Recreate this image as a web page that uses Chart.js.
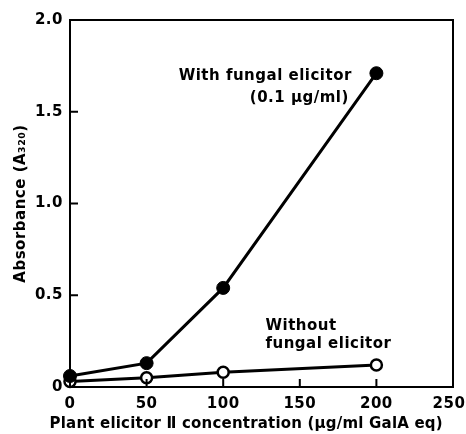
<!DOCTYPE html>
<html><head><meta charset="utf-8">
<script src="https://cdn.jsdelivr.net/npm/chart.js@4/dist/chart.umd.min.js"></script>
<style>html,body{margin:0;padding:0;background:#fff}#wrap{width:466px;height:434px}</style>
</head><body><div id="wrap"><canvas id="c" width="466" height="434"></canvas></div>
<script>
const concentrations = [0, 50, 100, 200];
const withFungal = [0.06, 0.13, 0.54, 1.71];
const withoutFungal = [0.03, 0.05, 0.08, 0.12];
const xTicks = [0, 50, 100, 150, 200, 250];
const yTicks = [0, 0.5, 1.0, 1.5, 2.0];
const xTitle = 'Plant elicitor Ⅱ concentration (μg/ml GalA eq)';
const yTitle = 'Absorbance (A₃₂₀)';
const labelWith = ["With fungal elicitor", "(0.1 μg/ml)"];
const labelWithout = ["Without", "fungal elicitor"];

const FONT = "'DejaVu Sans', sans-serif";

const framePlugin = {
  id: 'frame',
  beforeDraw(chart) { chart.ctx.letterSpacing = '0.5px'; },
  afterDatasetsDraw(chart) {
    const ctx = chart.ctx, a = chart.chartArea;
    const xs = chart.scales.x, ys = chart.scales.y;
    ctx.save();
    ctx.strokeStyle = '#000';
    ctx.lineWidth = 2;
    ctx.strokeRect(a.left, a.top, a.right - a.left, a.bottom - a.top);
    ctx.beginPath();
    xTicks.forEach(v => { if (v > 0 && v < 250) { const px = xs.getPixelForValue(v); ctx.moveTo(px, a.bottom); ctx.lineTo(px, a.bottom - 8); } });
    yTicks.forEach(v => { if (v > 0 && v < 2) { const py = ys.getPixelForValue(v); ctx.moveTo(a.left, py); ctx.lineTo(a.left + 8, py); } });
    ctx.stroke();
    ctx.fillStyle = '#000';
    ctx.font = "bold 15px " + FONT;
    ctx.letterSpacing = '0.5px';
    ctx.textBaseline = 'alphabetic';
    ctx.textAlign = 'right';
    ctx.fillText(labelWith[0], xs.getPixelForValue(184), ys.getPixelForValue(1.673));
    ctx.fillText(labelWith[1], xs.getPixelForValue(182), ys.getPixelForValue(1.553));
    ctx.textAlign = 'left';
    ctx.fillText(labelWithout[0], xs.getPixelForValue(127.6), ys.getPixelForValue(0.311));
    ctx.fillText(labelWithout[1], xs.getPixelForValue(127.6), ys.getPixelForValue(0.2125));
    // x-axis title
    ctx.font = "bold 15px " + FONT;
    ctx.letterSpacing = '0.2px';
    ctx.textAlign = 'center';
    ctx.fillText(xTitle, xs.getPixelForValue(115), a.bottom + 41);
    ctx.restore();
  }
};

new Chart(document.getElementById('c'), {
  type: 'line',
  data: {
    datasets: [
      { label: 'With fungal elicitor', data: concentrations.map((x, i) => ({x, y: withFungal[i]})),
        borderColor: '#000', borderWidth: 3, backgroundColor: '#000',
        pointBackgroundColor: '#000', pointBorderColor: '#000', pointRadius: 6.5, pointBorderWidth: 1, clip: false, tension: 0 },
      { label: 'Without fungal elicitor', data: concentrations.map((x, i) => ({x, y: withoutFungal[i]})),
        borderColor: '#000', borderWidth: 3, backgroundColor: '#fff',
        pointBackgroundColor: '#fff', pointBorderColor: '#000', pointRadius: 5.5, pointBorderWidth: 2.5, clip: false, tension: 0 }
    ]
  },
  options: {
    responsive: false, animation: false, devicePixelRatio: 1,
    layout: { padding: { top: 20, right: 13, left: 0, bottom: 0 } },
    plugins: { legend: { display: false }, tooltip: { enabled: false } },
    scales: {
      x: {
        type: 'linear', min: 0, max: 250,
        afterBuildTicks(s) { s.ticks = xTicks.map(v => ({value: v})); },
        afterFit(s) { s.height = 47; s.paddingRight = 0; s.paddingLeft = 0; },
        grid: { display: false, drawTicks: false },
        border: { display: false },
        ticks: { color: '#000', padding: 8, font: { family: FONT, size: 15, weight: 'bold' }, maxRotation: 0,
                 callback: v => v === 250 ? '250\u2002' : String(v) },
        title: { display: false, text: xTitle }
      },
      y: {
        type: 'linear', min: 0, max: 2.0,
        afterBuildTicks(s) { s.ticks = yTicks.map(v => ({value: v})); },
        afterFit(s) { s.width = 70; },
        grid: { display: false, drawTicks: false },
        border: { display: false },
        ticks: { color: '#000', padding: 7, font: { family: FONT, size: 15, weight: 'bold' },
                 callback: v => v === 0 ? '0' : v.toFixed(1) },
        title: { display: true, text: yTitle, color: '#000',
                 font: { family: FONT, size: 15, weight: 'bold' }, padding: { top: 12, bottom: 0 } }
      }
    }
  },
  plugins: [framePlugin]
});
</script></body></html>
